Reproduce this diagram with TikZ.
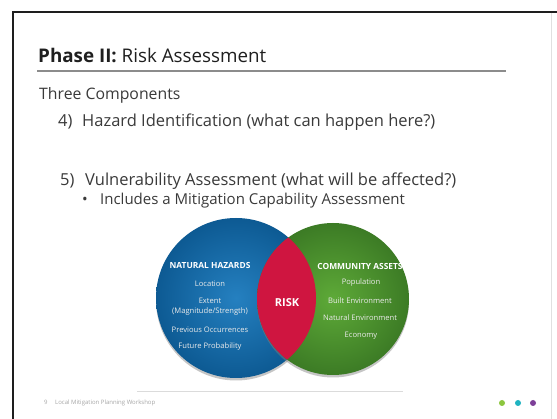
\documentclass[tikz,border=0pt]{standalone}
\usepackage{fontspec}
\setmainfont{Open Sans}
\usetikzlibrary{shadows}
\definecolor{cFrame}{HTML}{1E1E1E}
\definecolor{cText}{HTML}{3A3A3A}
\definecolor{cRule}{HTML}{8C8C8C}
\definecolor{cHazIn}{HTML}{2580C0}
\definecolor{cHazOut}{HTML}{0D5A93}
\definecolor{cComIn}{HTML}{5EAA38}
\definecolor{cComOut}{HTML}{3C7B25}
\definecolor{cRisk}{HTML}{CF1540}
\definecolor{cDotA}{HTML}{8CC63F}
\definecolor{cDotB}{HTML}{1FB3C1}
\definecolor{cDotC}{HTML}{7D3F98}

\begin{document}
\begin{tikzpicture}[x=1pt,y=-1pt,
  body/.style={anchor=base west,inner sep=0pt,font=\fontsize{16.5}{19}\selectfont,text=cText},
  venn/.style={circle,inner sep=0pt,draw=none,
    drop shadow={opacity=0.45,shadow xshift=0pt,shadow yshift=-2.5pt}},
  vhead/.style={font=\bfseries\fontsize{8.4}{9.4}\selectfont,text=white,inner sep=0pt},
  vtxt/.style={font=\fontsize{7.6}{8.6}\selectfont,text=white!92!black,inner sep=0pt},
  dot/.style={circle,inner sep=0pt,minimum size=6pt}]
  \useasboundingbox[fill=white] (0,0) rectangle (557,419);

  % slide frame
  \draw[cFrame,line width=2.4pt] (13,419) -- (13,12) -- (557,12);
  \draw[black!12,line width=0.6pt] (551,13) -- (551,419);

  % title and rule
  \node[anchor=base west,inner sep=0pt,font=\fontsize{18.8}{22}\selectfont,text=black!88]
    (title) at (38,63) {\textbf{Phase II:} Risk Assessment};
  \draw[cRule,line width=1.2pt] (37,71) -- (506,71);

  % bullet text
  \node[body,font=\fontsize{15.8}{18}\selectfont] (comp) at (39,100) {Three Components};
  \node[body] (n4) at (58,127) {4)};
  \node[body] (haz) at (82,127) {Hazard Identification (what can happen here?)};
  \node[body] (n5) at (60,186) {5)};
  \node[body] (vul) at (85,186) {Vulnerability Assessment (what will be affected?)};
  \node[body,font=\fontsize{15}{18}\selectfont] (bul) at (82,205) {\textbullet};
  \node[body,font=\fontsize{15}{18}\selectfont] (mit) at (100,205)
    {Includes a Mitigation Capability Assessment};

  % venn diagram
  \node[venn,minimum size=160pt,inner color=cHazIn,outer color=cHazOut] (hazc) at (236,298) {};
  \node[venn,minimum size=152pt,inner color=cComIn,outer color=cComOut] (comc) at (333,299) {};
  \begin{scope}
    \clip (hazc.center) circle (80pt);
    \fill[cRisk] (comc.center) circle (76pt);
  \end{scope}
  \node[font=\bfseries\fontsize{11}{12}\selectfont,text=white,inner sep=0pt] (risk) at (287,303) {RISK};

  \node[vhead] (hhead) at (210,266) {NATURAL HAZARDS};
  \node[vtxt] (h1) at (210,284) {Location};
  \node[vtxt] (h2) at (210,301) {Extent};
  \node[vtxt] (h3) at (210,312) {(Magnitude/Strength)};
  \node[vtxt] (h4) at (210,330) {Previous Occurrences};
  \node[vtxt] (h5) at (210,347) {Future Probability};

  \node[vhead] (chead) at (360,266) {COMMUNITY ASSETS};
  \node[vtxt] (c1) at (361,283) {Population};
  \node[vtxt] (c2) at (360,301) {Built Environment};
  \node[vtxt] (c3) at (360,318) {Natural Environment};
  \node[vtxt] (c4) at (361,336) {Economy};

  % footer
  \draw[black!14,line width=0.5pt] (137,391) -- (403,391);
  \node[anchor=west,inner sep=0pt,font=\fontsize{6}{7}\selectfont,text=black!35]
    (foot) at (44,403) {9 \quad Local Mitigation Planning Workshop};
  \node[dot,fill=cDotA] (d1) at (502,403) {};
  \node[dot,fill=cDotB] (d2) at (518,403) {};
  \node[dot,fill=cDotC] (d3) at (533,403) {};
\end{tikzpicture}
\end{document}
